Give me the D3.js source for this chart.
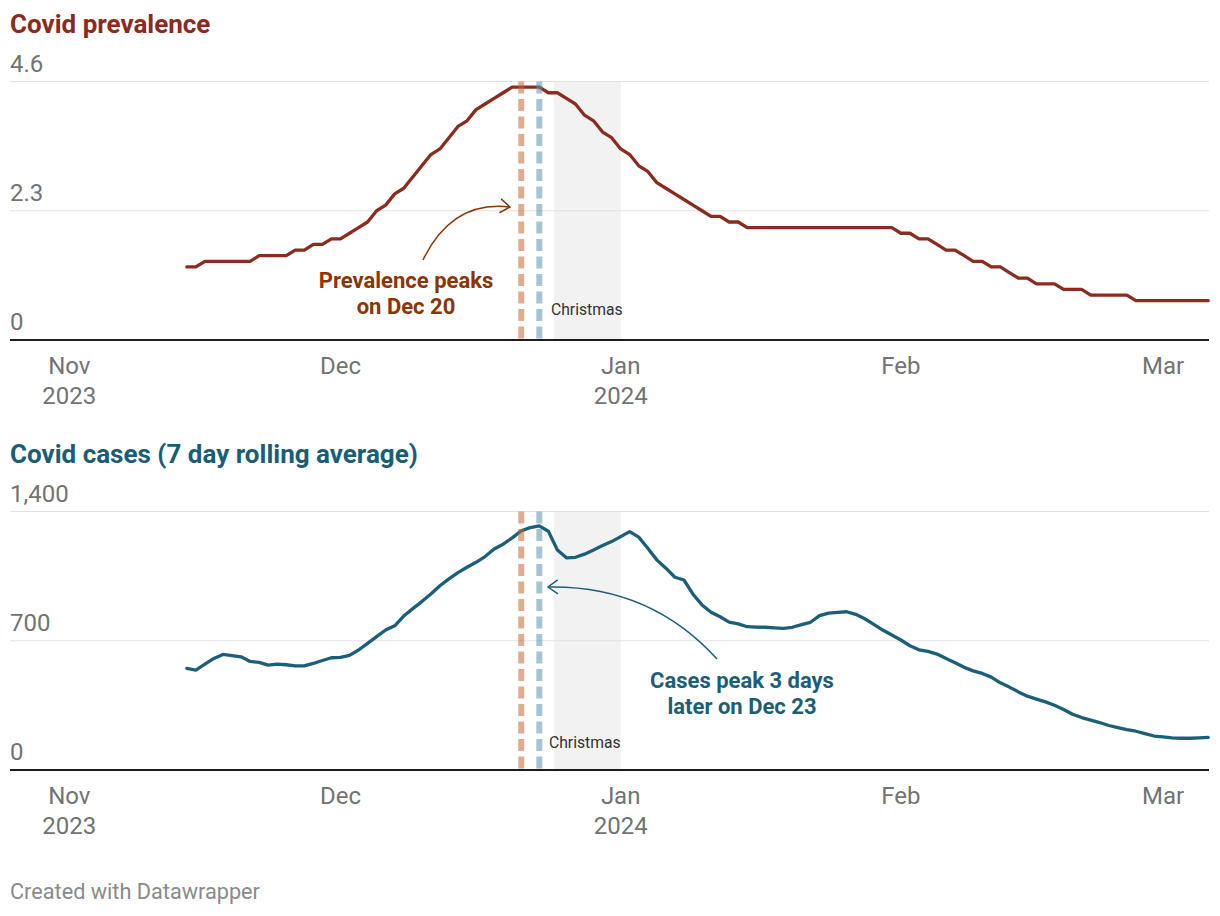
<!DOCTYPE html>
<html><head><meta charset="utf-8">
<script src="https://cdn.jsdelivr.net/npm/d3@7"></script>
<style>
body{margin:0;background:#fff;}
svg{display:block;font-family:Roboto,"Noto Sans",sans-serif;}
</style></head><body>
<svg id="chart" width="1220" height="916"></svg>
<script>
// ---------- data ----------
const startDate = "2023-11-14";   // first daily value
const prevalence = [
  1.3,1.3,1.4,1.4,1.4,1.4,1.4,1.4,1.5,1.5,1.5,1.5,1.6,1.6,1.7,1.7,1.8,1.8,
  1.9,2.0,2.1,2.3,2.4,2.6,2.7,2.9,3.1,3.3,3.4,3.6,3.8,3.9,4.1,4.2,4.3,4.4,
  4.5,4.5,4.5,4.5,4.4,4.4,4.3,4.2,4.0,3.9,3.7,3.6,3.4,3.3,3.1,3.0,2.8,2.7,2.6,2.5,2.4,2.3,
  2.2,2.2,2.1,2.1,
  2.0,2.0,2.0,2.0,2.0,2.0,2.0,2.0,2.0,2.0,2.0,2.0,2.0,2.0,2.0,2.0,2.0,
  1.9,1.9,1.8,1.8,1.7,1.6,1.6,1.5,1.4,1.4,1.3,1.3,1.2,1.1,1.1,1.0,1.0,1.0,
  0.9,0.9,0.9,0.8,0.8,0.8,0.8,0.8,0.7,0.7,0.7,0.7,0.7,0.7,0.7,0.7,0.7
];
const cases = [
  550,541,573,604,626,620,613,588,583,568,573,570,564,564,577,593,608,610,
  621,650,686,722,758,781,834,874,912,953,998,1035,1069,1098,1125,1156,1197,1223,
  1257,1295,1313,1322,1293,1192,1149,1152,1169,1192,1216,1237,1264,1291,1261,1201,
  1138,1093,1044,1029,952,894,854,830,801,791,776,774,773,770,767,773,787,800,
  836,850,854,857,843,819,789,758,731,704,673,651,642,628,604,581,556,537,523,
  503,472,449,423,400,384,369,351,328,302,284,270,257,241,230,219,210,197,184,
  179,174,172,172,174,177
];
const monthTicks = ["2023-11-01","2023-12-01","2024-01-01","2024-02-01","2024-03-01"];
const monthLabels = ["Nov","Dec","Jan","Feb","Mar"];
const yearLabels = ["2023","","2024","",""];
const prevTicks = [0, 2.3, 4.6];
const caseTicks = [0, 700, 1400];
const peakMarkerDates = ["2023-12-21", "2023-12-23"];
const christmasRange = ["2023-12-24T15:00", "2024-01-01T00:00"];
const prevNote = ["Prevalence peaks", "on Dec 20"];
const caseNote = ["Cases peak 3 days", "later on Dec 23"];

// ---------- setup ----------
const parseDay = d3.utcParse("%Y-%m-%d");
const parseTime = d3.utcParse("%Y-%m-%dT%H:%M");
const day0 = parseDay(startDate);
const dates = prevalence.map((_, i) => d3.utcDay.offset(day0, i));
const ticks = monthTicks.map(parseDay);
const markers = peakMarkerDates.map(parseDay);
const xmas = christmasRange.map(parseTime);

const svg = d3.select("#chart");
const PL = 10, PR = 1209;
const x = d3.scaleUtc().domain([ticks[0], ticks[4]]).range([69.3, 1163]);

const panels = [
  { title: "Covid prevalence", titleColor: "#8b2b1d", lineColor: "#8b2c1e",
    values: prevalence, tickVals: prevTicks, fmt: d3.format(""), offset: 0,
    note: prevNote, noteColor: "#8c3404",
    noteX: 406, noteY: 287.5, arrow: [[423,260],[452,200],[510,207]], xmasLabel: [551, 315] },
  { title: "Covid cases (7 day rolling average)", titleColor: "#1a5d77", lineColor: "#1b6079",
    values: cases, tickVals: caseTicks, fmt: d3.format(","), offset: 430,
    note: caseNote, noteColor: "#1c5e78",
    noteX: 742, noteY: 688, arrow: [[717,659-430],[650,585-430],[548,587-430]], xmasLabel: [549, 748-430] }
];
const markerStyle = [{c:"#c8692e"}, {c:"#5b95ad"}];

panels.forEach(p => {
  const g = svg.append("g").attr("transform", `translate(0,${p.offset})`);
  const yMax = p.tickVals[p.tickVals.length - 1];
  const y = d3.scaleLinear().domain([0, yMax]).range([340, 81.5]);

  g.append("text").attr("x", PL).attr("y", 33)
    .attr("font-size", 26).attr("font-weight", 700).attr("fill", p.titleColor)
    .text(p.title);

  // Christmas band
  g.append("rect").attr("x", x(xmas[0])).attr("width", x(xmas[1]) - x(xmas[0]))
    .attr("y", y(yMax)).attr("height", y(0) - y(yMax)).attr("fill", "#f2f2f2");

  // gridlines
  g.selectAll("line.grid").data(p.tickVals.filter(t => t > 0)).join("line")
    .attr("class", "grid").attr("x1", PL).attr("x2", PR)
    .attr("y1", d => y(d)).attr("y2", d => y(d))
    .attr("stroke", "#e2e2e2").attr("stroke-width", 1.2);

  // y labels
  g.selectAll("text.ylab").data(p.tickVals).join("text")
    .attr("class", "ylab").attr("x", PL).attr("y", d => y(d) - 10)
    .attr("font-size", 24).attr("fill", "#737373").text(d => p.fmt(d));

  // Christmas label
  g.append("text").attr("x", p.xmasLabel[0]).attr("y", p.xmasLabel[1])
    .attr("font-size", 15.7).attr("fill", "#333").text("Christmas");

  // data line
  const series = p.values.map((v, i) => ({ date: dates[i], v }));
  g.append("path").datum(series)
    .attr("d", d3.line().x(d => x(d.date)).y(d => y(d.v)))
    .attr("fill", "none").attr("stroke", p.lineColor).attr("stroke-width", 3.3)
    .attr("stroke-linejoin", "round").attr("stroke-linecap", "round");

  // dashed peak markers
  g.selectAll("line.mk").data(markers).join("line")
    .attr("class", "mk").attr("x1", d => x(d)).attr("x2", d => x(d))
    .attr("y1", y(yMax)).attr("y2", y(0))
    .attr("stroke", (d, i) => markerStyle[i].c).attr("stroke-opacity", 0.55)
    .attr("stroke-width", 6).attr("stroke-dasharray", "12,5.5");

  // baseline
  g.append("line").attr("x1", PL).attr("x2", PR).attr("y1", y(0)).attr("y2", y(0))
    .attr("stroke", "#1d1d1d").attr("stroke-width", 2);

  // x labels
  ticks.forEach((t, i) => {
    g.append("text").attr("x", x(t)).attr("y", 374).attr("text-anchor", "middle")
      .attr("font-size", 24).attr("fill", "#737373").text(monthLabels[i]);
    if (yearLabels[i]) g.append("text").attr("x", x(t)).attr("y", 404).attr("text-anchor", "middle")
      .attr("font-size", 24).attr("fill", "#737373").text(yearLabels[i]);
  });

  // annotation text
  p.note.forEach((s, i) => {
    g.append("text").attr("x", p.noteX).attr("y", p.noteY - p.offset + i * 26)
      .attr("text-anchor", "middle").attr("font-size", 22).attr("font-weight", 700)
      .attr("fill", p.noteColor).text(s);
  });

  // arrow
  const [a0, c, a1] = p.arrow;
  g.append("path").attr("d", `M${a0[0]},${a0[1]} Q${c[0]},${c[1]} ${a1[0]},${a1[1]}`)
    .attr("fill", "none").attr("stroke", p.noteColor).attr("stroke-width", 1.5);
  const ang = Math.atan2(a1[1] - c[1], a1[0] - c[0]);
  const head = [ang + Math.PI - 0.62, ang + Math.PI + 0.62].map(a => [a1[0] + 12 * Math.cos(a), a1[1] + 12 * Math.sin(a)]);
  g.append("path").attr("d", `M${head[0][0]},${head[0][1]} L${a1[0]},${a1[1]} L${head[1][0]},${head[1][1]}`)
    .attr("fill", "none").attr("stroke", p.noteColor).attr("stroke-width", 1.5);
});

svg.append("text").attr("x", PL).attr("y", 899).attr("font-size", 21.7).attr("fill", "#8a8a8a")
  .text("Created with Datawrapper");
</script>
</body></html>
